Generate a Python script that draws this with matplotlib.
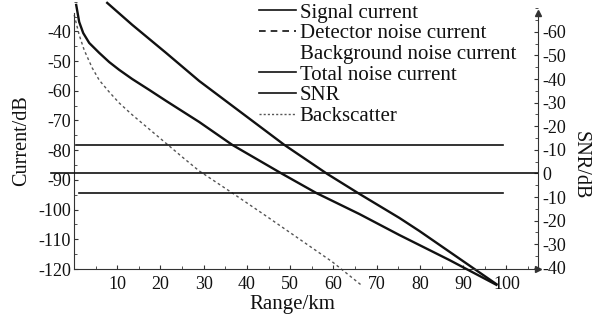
import matplotlib
matplotlib.use("Agg")
import matplotlib.pyplot as plt
from matplotlib.lines import Line2D
from matplotlib.ticker import MultipleLocator

plt.rcParams['font.family'] = ['Liberation Serif', 'DejaVu Serif']

# ---- data ----
signal_range = [7.68, 13.47, 21.34, 28.96, 48.63, 58.58, 65.99, 75.24, 79.87, 97.68]
signal_current = [-30.4, -37.8, -47.3, -56.7, -78.2, -88.0, -94.7, -102.8, -107.2, -125.1]

snr_range = [0.51, 1.20, 2.13, 3.52, 5.83, 8.14, 10.45, 13.47, 17.40, 21.33, 28.96,
             36.60, 48.17, 56.04, 65.99, 75.24, 86.81, 97.68]
snr_db = [71.4, 64.2, 59.5, 55.3, 51.1, 47.2, 43.9, 40.0, 35.4, 30.7, 21.8,
          12.1, -0.2, -8.3, -17.2, -26.1, -36.7, -47.2]

back_range = [0.05, 1.20, 2.36, 4.21, 5.83, 8.14, 10.45, 13.47, 20.41, 25.04, 28.97,
              36.6, 44.47, 52.1, 59.74, 66.68]
back_current = [-34.5, -41.2, -46.3, -52.3, -56.4, -60.4, -64.1, -68.1, -76.6, -82.3, -87.0,
                -94.4, -102.2, -109.9, -117.6, -125.7]

total_noise_range = [0.5, 99.1]
total_noise = [-78.2, -78.2]
detector_noise_range = [1.2, 99.1]
detector_noise = [-94.4, -94.4]
snr_zero_range = [-5.3, 107.3]
snr_zero = [0, 0]

x_ticks = [10, 20, 30, 40, 50, 60, 70, 80, 90, 100]
left_ticks = [-120, -110, -100, -90, -80, -70, -60, -50, -40]
right_ticks = [-40, -30, -20, -10, 0, 10, 20, 30, 40, 50, 60]
right_tick_labels = ['-40', '-30', '-20', '-10', '0', '-10', '-20', '-30', '-40', '-50', '-60']

legend_labels = ['Signal current', 'Detector noise current', 'Background noise current',
                 'Total noise current', 'SNR', 'Backscatter']

# ---- figure ----
W, H = 609, 322
fig = plt.figure(figsize=(W / 100, H / 100), dpi=100)
ax = fig.add_axes([74 / W, 53 / H, 464 / W, 269 / H])
ax2 = ax.twinx()

ax.set_xlim(0, 107.3)
ax.set_ylim(-120, -29.43)
ax2.set_ylim(-40.5, 73.5)

lc = '#111111'
ax.plot(signal_range, signal_current, color=lc, lw=1.7, clip_on=False)
ax.plot(back_range, back_current, color='#555555', lw=1.0, ls=(0, (2, 2)), clip_on=False)
ax.plot(total_noise_range, total_noise, color=lc, lw=1.2, clip_on=False)
ax.plot(detector_noise_range, detector_noise, color=lc, lw=1.2, clip_on=False)
ax2.plot(snr_range, snr_db, color=lc, lw=1.7, clip_on=False)
ax2.plot(snr_zero_range, snr_zero, color=lc, lw=1.2, clip_on=False)

# spines
for a in (ax, ax2):
    a.spines['top'].set_visible(False)
ax.spines['right'].set_visible(False)
ax2.spines['left'].set_visible(False)
ax2.spines['bottom'].set_visible(False)
sc = '#333333'
ax.spines['left'].set_color(sc)
ax.spines['bottom'].set_color(sc)
ax2.spines['right'].set_color(sc)
ax.spines['left'].set_bounds(-120, -33.8)
ax2.spines['right'].set_bounds(-40.5, 68)

# arrows at ends of axes
ax2.plot([1], [68], marker='^', ms=4, color=sc, transform=ax2.get_yaxis_transform(), clip_on=False)
ax.plot([1], [0], marker='>', ms=4, color=sc, transform=ax.transAxes, clip_on=False)

# ticks
ax.set_xticks(x_ticks)
ax.set_xticklabels([str(v) for v in x_ticks])
ax.xaxis.set_minor_locator(MultipleLocator(5))
ax.set_yticks(left_ticks)
ax.set_yticklabels([str(v) for v in left_ticks])
ax.yaxis.set_minor_locator(MultipleLocator(5))
ax2.set_yticks(right_ticks)
ax2.set_yticklabels(right_tick_labels)
ax2.yaxis.set_minor_locator(MultipleLocator(5))

ax.tick_params(axis='both', which='major', direction='in', length=3, width=0.8, colors=sc,
               labelsize=13, labelcolor='#111111')
ax.tick_params(axis='both', which='minor', direction='in', length=2, width=0.6, colors=sc)
ax.tick_params(axis='x', pad=5)
ax.tick_params(axis='y', pad=2)
ax2.tick_params(axis='y', which='major', direction='in', length=3, width=0.8, colors=sc,
                labelsize=13, labelcolor='#111111', pad=3)
ax2.tick_params(axis='y', which='minor', direction='in', length=2, width=0.6, colors=sc)

# axis labels
ax.text((22 - 74) / 464, (269 - 141) / 269, 'Current/dB', rotation=90, ha='center', va='center',
        fontsize=14.5, color='#111111', transform=ax.transAxes)
ax.text((580 - 74) / 464, (269 - 165) / 269, 'SNR/dB', rotation=270, ha='center', va='center',
        fontsize=14.5, color='#111111', transform=ax.transAxes)
ax.text((292 - 74) / 464, (269 - 305) / 269, 'Range/km', ha='center', va='center',
        fontsize=15, color='#111111', transform=ax.transAxes)

# legend
handles = [
    Line2D([], [], color=lc, lw=1.2),
    Line2D([], [], color=lc, lw=1.2, ls=(0, (4, 3))),
    Line2D([], [], ls='none'),
    Line2D([], [], color=lc, lw=1.2),
    Line2D([], [], color=lc, lw=1.2),
    Line2D([], [], color='#555555', lw=1.0, ls=(0, (1.5, 1.5))),
]
leg = fig.legend(handles, legend_labels, loc='upper left', bbox_to_anchor=(257 / W, 1 - 1 / H),
                 frameon=False, fontsize=15, handlelength=1.75, handletextpad=0.2,
                 labelspacing=0.05, borderaxespad=0, borderpad=0.1)
for t in leg.get_texts():
    t.set_color('#111111')

fig.savefig('out.png', dpi=100)
